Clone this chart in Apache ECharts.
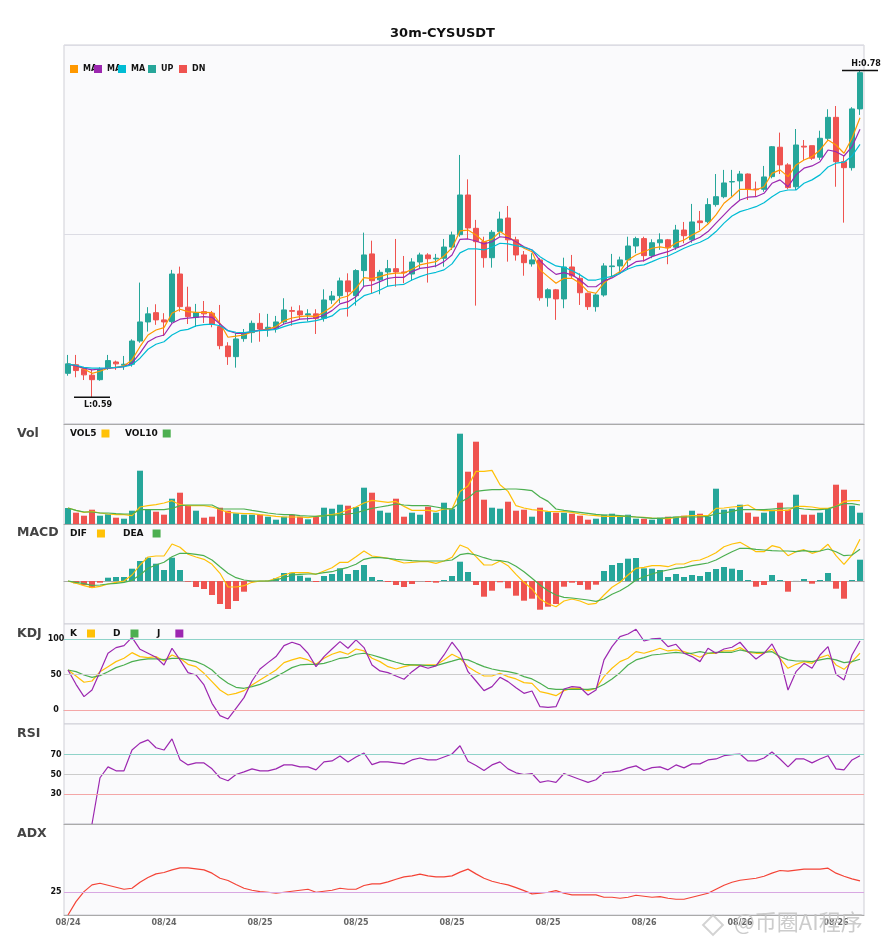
<!DOCTYPE html>
<html>
<head>
<meta charset="utf-8">
<title>30m-CYSUSDT</title>
<script src="https://cdn.jsdelivr.net/npm/echarts/dist/echarts.min.js"></script>
<style>
  html, body { margin: 0; padding: 0; background: #fff; }
  #main { width: 885px; height: 950px; }
</style>
</head>
<body>
<div id="main"></div>
<script>
// 30 minute candles, 08/24 14:00 .. 08/26 15:30
const categories = [
  '08/24 14:00','08/24 14:30','08/24 15:00','08/24 15:30','08/24 16:00','08/24 16:30','08/24 17:00','08/24 17:30','08/24 18:00','08/24 18:30',
  '08/24 19:00','08/24 19:30','08/24 20:00','08/24 20:30','08/24 21:00','08/24 21:30','08/24 22:00','08/24 22:30','08/24 23:00','08/24 23:30',
  '08/25 00:00','08/25 00:30','08/25 01:00','08/25 01:30','08/25 02:00','08/25 02:30','08/25 03:00','08/25 03:30','08/25 04:00','08/25 04:30',
  '08/25 05:00','08/25 05:30','08/25 06:00','08/25 06:30','08/25 07:00','08/25 07:30','08/25 08:00','08/25 08:30','08/25 09:00','08/25 09:30',
  '08/25 10:00','08/25 10:30','08/25 11:00','08/25 11:30','08/25 12:00','08/25 12:30','08/25 13:00','08/25 13:30','08/25 14:00','08/25 14:30',
  '08/25 15:00','08/25 15:30','08/25 16:00','08/25 16:30','08/25 17:00','08/25 17:30','08/25 18:00','08/25 18:30','08/25 19:00','08/25 19:30',
  '08/25 20:00','08/25 20:30','08/25 21:00','08/25 21:30','08/25 22:00','08/25 22:30','08/25 23:00','08/25 23:30','08/26 00:00','08/26 00:30',
  '08/26 01:00','08/26 01:30','08/26 02:00','08/26 02:30','08/26 03:00','08/26 03:30','08/26 04:00','08/26 04:30','08/26 05:00','08/26 05:30',
  '08/26 06:00','08/26 06:30','08/26 07:00','08/26 07:30','08/26 08:00','08/26 08:30','08/26 09:00','08/26 09:30','08/26 10:00','08/26 10:30',
  '08/26 11:00','08/26 11:30','08/26 12:00','08/26 12:30','08/26 13:00','08/26 13:30','08/26 14:00','08/26 14:30','08/26 15:00','08/26 15:30'
];

const opens = [
  .6043,.6093,.6067,.6032,.6006,.6072,.6109,.6090,.6096,.6231,
  .6342,.6396,.6354,.6344,.6621,.6428,.6369,.6402,.6393,.6315,
  .6202,.6140,.6245,.6280,.6334,.6299,.6307,.6342,.6408,.6406,
  .6383,.6389,.6363,.6470,.6495,.6581,.6495,.6641,.6738,.6587,
  .6633,.6652,.6633,.6621,.6691,.6732,.6709,.6713,.6778,.6850,
  .7081,.6887,.6809,.6716,.6868,.6947,.6820,.6732,.6680,.6703,
  .6483,.6529,.6476,.6662,.6596,.6509,.6431,.6499,.6664,.6668,
  .6703,.6784,.6827,.6728,.6803,.6820,.6777,.6877,.6820,.6930,
  .6926,.7025,.7071,.7157,.7163,.7203,.7116,.7114,.7188,.7359,
  .7256,.7129,.7365,.7368,.7301,.7411,.7533,.7275,.7240,.7582
];
const closes = [
  .6098,.6059,.6034,.6006,.6067,.6117,.6098,.6096,.6231,.6342,
  .6389,.6354,.6342,.6621,.6431,.6373,.6396,.6389,.6330,.6204,
  .6140,.6243,.6280,.6334,.6301,.6311,.6342,.6412,.6404,.6383,
  .6389,.6363,.6470,.6493,.6581,.6518,.6641,.6732,.6582,.6631,
  .6652,.6633,.6629,.6691,.6732,.6710,.6713,.6778,.6848,.7081,
  .6889,.6809,.6716,.6864,.6941,.6820,.6732,.6687,.6703,.6483,
  .6529,.6476,.6662,.6610,.6512,.6431,.6499,.6668,.6668,.6703,
  .6784,.6827,.6728,.6803,.6820,.6774,.6877,.6844,.6924,.6920,
  .7025,.7071,.7151,.7159,.7203,.7114,.7112,.7186,.7362,.7256,
  .7124,.7372,.7360,.7295,.7411,.7533,.7275,.7240,.7582,.7793
];
const highs = [
  .6150,.6150,.6080,.6063,.6078,.6150,.6117,.6144,.6241,.6571,
  .6428,.6445,.6393,.6645,.6664,.6547,.6447,.6464,.6406,.6441,
  .6224,.6276,.6301,.6350,.6393,.6389,.6377,.6480,.6431,.6439,
  .6416,.6416,.6532,.6522,.6600,.6625,.6649,.6862,.6815,.6645,
  .6703,.6825,.6726,.6713,.6745,.6742,.6738,.6825,.6868,.7314,
  .7172,.6936,.6838,.6877,.6984,.7017,.6838,.6755,.6742,.6713,
  .6538,.6534,.6716,.6732,.6625,.6512,.6509,.6684,.6738,.6722,
  .6838,.6838,.6838,.6823,.6858,.6825,.6907,.6924,.7029,.6988,
  .7062,.7203,.7227,.7227,.7221,.7206,.7159,.7250,.7366,.7444,
  .7266,.7465,.7401,.7368,.7455,.7580,.7599,.7310,.7592,.7805
];
const lows = [
  .6029,.6020,.6004,.5904,.6000,.6063,.6063,.6063,.6082,.6221,
  .6286,.6325,.6260,.6334,.6402,.6330,.6313,.6336,.6311,.6183,
  .6092,.6076,.6227,.6221,.6227,.6256,.6280,.6330,.6320,.6358,
  .6344,.6272,.6344,.6447,.6451,.6373,.6437,.6547,.6509,.6503,
  .6547,.6547,.6567,.6582,.6652,.6571,.6660,.6664,.6761,.6838,
  .6825,.6437,.6658,.6658,.6838,.6693,.6699,.6611,.6664,.6466,
  .6431,.6354,.6422,.6596,.6441,.6412,.6402,.6489,.6601,.6625,
  .6645,.6742,.6693,.6713,.6762,.6678,.6762,.6800,.6803,.6877,
  .6916,.7013,.7062,.7071,.7052,.7052,.7071,.7100,.7178,.7203,
  .7114,.7110,.7285,.7285,.7285,.7401,.7129,.6920,.7223,.7547
];

const ma5 = [
  .6096,.6088,.6068,.6043,.6055,.6073,.6078,.6086,.6121,.6198,
  .6266,.6295,.6309,.6393,.6416,.6402,.6398,.6398,.6396,.6334,
  .6253,.6259,.6266,.6284,.6295,.6300,.6315,.6350,.6365,.6373,
  .6377,.6373,.6400,.6431,.6480,.6493,.6538,.6600,.6594,.6606,
  .6620,.6626,.6626,.6649,.6674,.6684,.6693,.6726,.6773,.6872,
  .6877,.6848,.6809,.6823,.6868,.6838,.6809,.6771,.6751,.6645,
  .6606,.6567,.6596,.6596,.6567,.6518,.6509,.6569,.6607,.6635,
  .6703,.6732,.6751,.6771,.6779,.6771,.6802,.6819,.6848,.6872,
  .6912,.6965,.7033,.7071,.7114,.7114,.7110,.7129,.7207,.7227,
  .7188,.7256,.7285,.7304,.7343,.7401,.7372,.7324,.7411,.7531
];
const ma10 = [
  .6096,.6086,.6073,.6063,.6068,.6073,.6076,.6082,.6102,.6160,
  .6227,.6253,.6266,.6334,.6358,.6364,.6369,.6373,.6369,.6330,
  .6291,.6276,.6276,.6286,.6294,.6295,.6305,.6330,.6344,.6358,
  .6361,.6365,.6381,.6408,.6447,.6460,.6489,.6551,.6557,.6577,
  .6596,.6602,.6602,.6635,.6654,.6660,.6668,.6693,.6732,.6823,
  .6825,.6813,.6796,.6809,.6838,.6833,.6809,.6779,.6761,.6699,
  .6654,.6619,.6629,.6616,.6586,.6547,.6547,.6581,.6598,.6625,
  .6664,.6693,.6699,.6722,.6738,.6751,.6771,.6790,.6815,.6835,
  .6868,.6917,.6965,.7013,.7052,.7068,.7071,.7091,.7149,.7169,
  .7129,.7198,.7237,.7250,.7275,.7343,.7333,.7308,.7362,.7464
];
const ma20 = [
  .6096,.6090,.6078,.6073,.6073,.6074,.6078,.6082,.6092,.6131,
  .6183,.6212,.6227,.6266,.6291,.6299,.6319,.6326,.6329,.6320,
  .6291,.6282,.6280,.6286,.6291,.6294,.6299,.6315,.6329,.6338,
  .6342,.6350,.6361,.6377,.6416,.6422,.6460,.6495,.6509,.6528,
  .6551,.6557,.6561,.6586,.6606,.6621,.6631,.6645,.6680,.6744,
  .6767,.6767,.6761,.6777,.6800,.6796,.6786,.6777,.6761,.6722,
  .6693,.6668,.6660,.6641,.6616,.6586,.6586,.6598,.6607,.6625,
  .6650,.6668,.6674,.6693,.6713,.6726,.6748,.6771,.6790,.6806,
  .6829,.6868,.6917,.6959,.6984,.6998,.7013,.7036,.7071,.7100,
  .7110,.7110,.7149,.7169,.7198,.7244,.7266,.7272,.7308,.7376
];

const volumes = [
  160,113,83,143,83,97,63,53,133,533,
  143,123,93,253,313,187,133,63,73,163,
  133,107,93,93,93,73,43,73,93,73,
  47,73,163,153,193,183,170,363,313,133,
  113,253,73,113,93,173,113,213,153,903,
  523,823,243,163,153,223,133,143,73,163,
  123,113,113,103,83,43,53,93,103,73,
  93,53,53,43,63,73,73,83,133,103,
  73,353,143,153,193,113,73,113,143,213,
  143,293,93,93,113,153,393,343,183,113
];
const vol5 = [
  160,136,116,126,110,100,93,93,83,170,
  183,193,210,233,193,183,183,183,170,145,
  116,110,103,103,93,86,76,70,70,70,
  63,76,83,93,110,143,170,210,236,226,
  216,226,176,136,136,136,126,150,150,326,
  381,526,526,536,393,326,183,160,143,136,
  126,123,123,116,100,90,83,76,76,76,
  76,70,66,60,56,53,66,76,83,83,
  83,156,160,170,176,190,143,133,133,136,
  136,176,176,170,156,156,176,226,233,233
];
const vol10 = [
  160,136,120,120,110,110,103,100,100,143,
  143,143,143,156,183,190,190,190,190,150,
  150,150,150,136,123,110,100,93,93,83,
  80,76,83,86,93,100,110,136,156,170,
  183,200,190,183,183,183,170,156,150,216,
  260,326,336,343,343,350,350,343,333,270,
  226,150,136,126,116,106,96,90,90,83,
  76,70,63,56,56,63,70,70,70,70,
  76,103,110,126,143,143,143,143,150,156,
  160,160,150,143,143,150,176,203,203,190
];

const dif = [
  0,-.00023,-.00047,-.00067,-.00053,-.0003,-.00013,0,.0006,.0016,
  .0024,.0025,.0025,.0037,.00337,.00267,.0024,.00217,.00167,.00077,
  -.0006,-.0006,-.00047,-.00013,0,0,.00027,.0006,.00083,.00083,
  .00083,.00067,.001,.00133,.00187,.00187,.00243,.003,.0025,.0024,
  .00227,.00203,.0018,.00187,.00193,.00193,.00177,.002,.00237,.0036,
  .00327,.00243,.0016,.0016,.002,.00153,.00067,-.00013,-.0008,-.0018,
  -.00227,-.00257,-.002,-.0018,-.002,-.00233,-.00223,-.0014,-.00063,-.00013,
  .0006,.00127,.00137,.00153,.00153,.00143,.0017,.0017,.002,.0021,
  .00243,.00283,.00343,.0037,.00387,.00343,.00293,.00293,.00353,.00333,
  .00253,.00293,.00313,.00277,.003,.00367,.00253,.00167,.0026,.00417
];
const dea = [
  0,-.00013,-.00027,-.00043,-.0004,-.0003,-.00023,-.00013,.00007,.0006,
  .00127,.0016,.00187,.00243,.00277,.00277,.00267,.00253,.0021,.00143,
  .00077,.00033,.0001,0,0,0,.0001,.00033,.0006,.00067,
  .0007,.0007,.00083,.00093,.00117,.00137,.00167,.00217,.00233,.00233,
  .00227,.00217,.0021,.00203,.002,.002,.002,.002,.0021,.00263,
  .00277,.0026,.00233,.0021,.00203,.0019,.00147,.00093,.00027,-.0004,
  -.00097,-.0014,-.00163,-.0017,-.0018,-.0019,-.00203,-.0018,-.00133,-.00097,
  -.0005,.0001,.00043,.0007,.00093,.0011,.00127,.00137,.00153,.00167,
  .0018,.0021,.00253,.00293,.00327,.00327,.00317,.0031,.00303,.003,
  .003,.00293,.00303,.00293,.003,.0032,.00293,.00253,.0026,.00317
];
const macdHist = [
  0,-.00023,-.0004,-.00067,-.00017,.00033,.0004,.0004,.00123,.002,
  .00233,.00173,.0011,.00233,.0011,-.00007,-.0006,-.0008,-.0014,-.0023,
  -.0028,-.002,-.00107,-.00007,-.00001,.00003,.00027,.0008,.00083,.00053,
  .00033,-.0001,.0005,.0007,.00127,.0007,.0011,.0016,.0004,.0001,
  -.0001,-.0004,-.0006,-.0003,-.00001,-.0001,-.00017,.0001,.0005,.00193,
  .0009,-.0004,-.00157,-.00097,-.00013,-.00073,-.00147,-.00197,-.00177,-.00287,
  -.00257,-.0023,-.00057,-.00017,-.0004,-.00087,-.00037,.001,.0016,.0018,
  .00223,.0023,.00127,.00123,.0011,.0004,.0007,.0004,.0006,.0005,
  .0009,.0012,.0014,.00123,.0011,.0001,-.00057,-.0004,.0006,.0001,
  -.00107,.00001,.0002,-.00027,.0001,.0008,-.00077,-.00177,.0001,.00213
];

const kValues = [
  56.6,48.1,39.2,41.0,54.2,61.3,68.4,73.1,81.1,75.5,
  74.1,75.5,69.3,77.8,73.1,64.6,61.3,51.9,40.1,28.3,
  21.2,23.6,27.4,35.4,42.5,49.5,56.6,67.0,70.8,74.1,
  70.8,64.6,73.1,78.8,82.5,78.8,86.3,83.5,73.1,68.4,
  61.3,58.0,61.3,63.7,62.7,63.7,63.7,70.8,78.8,73.1,
  61.3,54.2,48.1,48.1,51.9,47.2,43.9,38.7,37.7,25.9,
  23.6,20.3,27.4,30.7,30.7,27.4,30.7,47.2,59.0,68.4,
  73.1,82.5,80.2,83.5,87.3,83.5,84.9,82.5,78.8,74.5,
  80.2,80.2,83.5,83.5,88.2,81.6,80.2,80.2,86.3,73.1,
  59.0,64.6,68.4,66.0,74.1,77.8,63.7,57.5,68.4,80.2
];
const dValues = [
  56.6,54.2,49.5,46.2,48.6,54.2,59.9,63.7,68.4,70.8,
  72.2,72.2,71.2,73.1,73.1,70.8,68.4,63.7,56.6,45.8,
  37.7,32.1,30.7,33.0,36.3,41.0,47.2,53.3,59.9,63.7,
  64.6,64.6,66.0,69.3,73.1,74.5,78.8,80.2,77.8,74.5,
  70.8,67.5,64.6,63.7,63.7,62.7,62.7,66.0,69.0,72.2,
  70.8,66.0,61.3,58.0,55.7,54.2,51.9,47.2,43.9,37.7,
  30.7,29.2,29.2,29.2,29.2,29.2,30.7,36.3,43.9,52.8,
  63.7,70.8,74.1,77.8,78.8,80.2,81.6,80.2,80.2,82.5,
  80.2,81.6,81.6,81.6,84.9,82.5,81.6,81.6,82.5,75.5,
  70.8,69.3,69.3,68.4,70.8,73.1,70.8,67.0,68.4,71.7
];
const jValues = [
  56.6,36.3,18.9,28.3,54.2,80.2,88.2,91.0,102.8,85.8,
  80.2,74.5,63.7,87.3,70.8,52.8,49.5,35.4,9.4,-8.0,
  -12.7,2.4,17.5,41.0,58.0,67.0,75.5,91.0,95.8,92.0,
  80.2,61.3,75.5,86.3,96.7,87.3,99.1,88.2,63.7,55.2,
  52.8,48.1,43.4,54.2,62.7,59.0,62.3,77.8,95.8,81.6,
  54.2,41.0,27.4,33.0,46.2,40.1,31.6,23.6,26.9,4.7,
  3.8,4.7,29.7,33.0,32.1,21.2,28.3,70.8,89.6,103.8,
  107.5,114.2,97.6,100.5,101.4,89.6,92.9,80.2,75.5,68.4,
  87.3,80.2,86.3,88.7,95.8,82.5,72.2,80.2,93.4,72.2,
  28.3,54.2,66.0,59.0,77.8,89.6,50.5,42.5,77.8,97.6
];

const rsi = [
  '-','-','-',0,46.7,57.7,53.7,53.7,74.7,81.7,
  85.0,77.0,74.7,86.0,65.0,59.7,61.7,61.7,55.7,46.7,
  43.7,50.0,52.7,55.7,53.7,53.7,55.7,59.7,59.7,57.7,
  57.7,54.7,62.7,63.7,68.7,62.7,67.7,71.7,60.0,62.7,
  62.7,61.7,60.7,64.7,66.7,64.7,64.7,67.7,70.7,79.0,
  63.3,59.0,54.0,59.7,62.7,55.7,51.7,50.0,51.0,42.0,
  43.7,42.0,51.0,48.0,45.0,42.0,44.7,52.0,52.7,53.7,
  56.7,58.7,54.0,57.0,57.7,54.7,59.7,56.7,60.7,60.7,
  64.7,65.7,69.0,70.0,70.7,63.7,63.7,66.7,72.7,65.7,
  57.7,65.7,65.7,61.7,65.7,69.0,55.7,54.7,64.7,69.0
];
const adx = [
  0,14.7,25.7,33.1,34.9,32.7,30.5,28.3,29.4,36.0,
  41.2,45.2,46.7,49.6,51.8,51.8,50.7,49.6,46.0,40.4,
  37.9,33.5,29.4,27.2,25.7,25.0,23.9,25.0,26.1,27.2,
  28.3,25.0,26.1,27.2,29.4,28.3,28.3,32.4,34.2,34.2,
  36.4,39.3,41.9,43.0,44.9,43.0,41.9,41.9,43.0,47.1,
  50.4,45.2,40.4,37.1,34.9,33.1,30.1,26.8,23.2,23.9,
  25.0,26.8,23.9,22.1,22.1,22.1,22.1,19.5,19.5,18.4,
  19.5,21.7,20.6,19.5,20.2,18.4,17.3,17.3,19.5,21.7,
  23.9,28.3,32.7,36.0,38.2,39.3,40.4,42.6,46.0,48.9,
  48.2,49.3,50.4,50.4,50.4,51.5,46.0,42.6,39.7,37.5
];

const UP = '#26a69a', DN = '#ef5350';
const FONT = 'DejaVu Sans';

const candles = categories.map((_, i) => [opens[i], closes[i], lows[i], highs[i]]);
const isUp = closes.map((c, i) => c >= opens[i]);
const volUp = volumes.map((v, i) => isUp[i] ? v : '-');
const volDn = volumes.map((v, i) => isUp[i] ? '-' : v);
const hiVal = Math.max(...highs), hiIdx = highs.indexOf(hiVal);
const loVal = Math.min(...lows), loIdx = lows.indexOf(loVal);

// grid layout: main, vol, macd, kdj, rsi, adx
const panels = [
  { top: 45, height: 379 },
  { top: 424, height: 100 },
  { top: 524, height: 100 },
  { top: 624, height: 100 },
  { top: 724, height: 100 },
  { top: 824, height: 91 }
];

const grids = panels.map(p => ({
  left: 64, right: 21, top: p.top, height: p.height,
  show: true, backgroundColor: '#fafafc', borderColor: '#cfcfd6', borderWidth: 1,
  containLabel: false, outerBoundsMode: 'none'
}));

const xAxes = panels.map((p, i) => ({
  type: 'category', gridIndex: i, data: categories, boundaryGap: true,
  axisLine: { show: true, lineStyle: { color: '#aaaaaa', width: 1 } },
  axisTick: { show: false },
  splitLine: { show: false },
  axisLabel: i === panels.length - 1 ? {
    show: true, interval: 11, margin: 4,
    fontSize: 8, fontWeight: 'bold', color: '#666', fontFamily: FONT,
    formatter: v => v.slice(0, 5)
  } : { show: false }
}));

function valueAxis(gridIndex, min, max, labels) {
  return {
    type: 'value', gridIndex, min, max,
    axisLine: { show: false }, axisTick: { show: false }, splitLine: { show: false },
    axisLabel: labels ? {
      show: true, customValues: labels, align: 'center', margin: 8,
      fontSize: 8, fontWeight: 'bold', color: '#111', fontFamily: FONT
    } : { show: false }
  };
}

const yAxes = [
  valueAxis(0, 0.5748, 0.7954),
  valueAxis(1, 0, 1000),
  valueAxis(2, -0.0043, 0.0057),
  valueAxis(3, -19.8, 121.6, [0, 50, 100]),
  valueAxis(4, 0, 101, [30, 50, 70]),
  valueAxis(5, 0, 100, [25]),
  // helper axis that only draws the middle guide line of the price panel
  {
    type: 'value', gridIndex: 0, min: 0, max: 2, interval: 1, position: 'right',
    axisLine: { show: false }, axisTick: { show: false }, axisLabel: { show: false },
    splitLine: { show: true, lineStyle: { color: '#dcdce4', width: 1 } }
  }
];

function line(name, data, color, xi, yi, extra) {
  return Object.assign({
    name, type: 'line', data, xAxisIndex: xi, yAxisIndex: yi,
    symbol: 'none', showSymbol: false, color,
    lineStyle: { color, width: 1.2 }, silent: true
  }, extra || {});
}

function guides(items) {
  return {
    silent: true, symbol: ['none', 'none'], label: { show: false }, animation: false,
    data: items.map(([v, c]) => ({ yAxis: v, lineStyle: { color: c, width: 1, type: 'solid' } }))
  };
}

// one legend entry per component so each sits exactly where it does in the picture
function legendItem(name, left, top, opts) {
  const o = opts || {};
  return {
    data: [name], left, top, padding: 0, itemWidth: 8, itemHeight: 8,
    icon: 'rect', selectedMode: false, align: o.align || 'left',
    formatter: o.label ? () => o.label : undefined,
    textStyle: {
      fontSize: o.size || 9, fontWeight: 'bold', color: '#111', fontFamily: FONT,
      padding: [0, o.padRight || 0, 0, 0]
    }
  };
}

const titleStyle = { fontSize: 12.5, fontWeight: 'bold', color: '#444', fontFamily: FONT };

const option = {
  animation: false,
  backgroundColor: '#ffffff',
  textStyle: { fontFamily: FONT },
  title: [
    { text: '30m-CYSUSDT', left: 'center', top: 27, padding: 0,
      textStyle: { fontSize: 13, fontWeight: 'bold', color: '#111', fontFamily: FONT } },
    { text: 'Vol', left: 17, top: 427.5, padding: 0, textStyle: titleStyle },
    { text: 'MACD', left: 17, top: 526.5, padding: 0, textStyle: titleStyle },
    { text: 'KDJ', left: 17, top: 627, padding: 0, textStyle: titleStyle },
    { text: 'RSI', left: 17, top: 727.5, padding: 0, textStyle: titleStyle },
    { text: 'ADX', left: 17, top: 827.5, padding: 0, textStyle: titleStyle }
  ],
  legend: [
    legendItem('MA5', 70, 65, { size: 8, label: 'MA' }),
    legendItem('MA10', 94, 65, { size: 8, label: 'MA' }),
    legendItem('MA20', 118, 65, { size: 8, label: 'MA' }),
    legendItem('UP', 148, 65, { size: 8 }),
    legendItem('DN', 179, 65, { size: 8 }),
    legendItem('VOL5', 70, 429, { align: 'right' }),
    legendItem('VOL10', 125, 429, { align: 'right' }),
    legendItem('DIF', 70, 529, { align: 'right', padRight: 5 }),
    legendItem('DEA', 123, 529, { align: 'right', padRight: 4 }),
    legendItem('K', 70, 629, { align: 'right', padRight: 5 }),
    legendItem('D', 113, 629, { align: 'right', padRight: 5 }),
    legendItem('J', 157, 629, { align: 'right', padRight: 10 })
  ],
  grid: grids,
  xAxis: xAxes,
  yAxis: yAxes,
  series: [
    {
      name: 'CYSUSDT', type: 'candlestick', data: candles, xAxisIndex: 0, yAxisIndex: 0,
      barWidth: 6, silent: true,
      itemStyle: { color: UP, color0: DN, borderColor: UP, borderColor0: DN, borderWidth: 1 },
      markPoint: {
        silent: true, animation: false, symbol: 'rect', symbolSize: [36, 1.5],
        itemStyle: { color: '#111' },
        label: { show: true, fontSize: 8, fontWeight: 'bold', color: '#111', fontFamily: FONT },
        data: [
          { coord: [hiIdx, hiVal], label: { position: 'top', distance: 2, offset: [6, 0], formatter: 'H:' + hiVal.toFixed(2) } },
          { coord: [loIdx, loVal], label: { position: 'bottom', distance: 3, offset: [6, 0], formatter: 'L:' + loVal.toFixed(2) } }
        ]
      }
    },
    line('MA5', ma5, '#ff9800', 0, 0),
    line('MA10', ma10, '#9c27b0', 0, 0),
    line('MA20', ma20, '#00bcd4', 0, 0),

    { name: 'UP', type: 'bar', data: volUp, xAxisIndex: 1, yAxisIndex: 1, barWidth: 6,
      color: UP, itemStyle: { color: UP }, silent: true },
    { name: 'DN', type: 'bar', data: volDn, xAxisIndex: 1, yAxisIndex: 1, barWidth: 6, barGap: '-100%',
      color: DN, itemStyle: { color: DN }, silent: true },
    line('VOL5', vol5, '#ffc107', 1, 1),
    line('VOL10', vol10, '#4caf50', 1, 1),

    { name: 'MACD', type: 'bar', data: macdHist, xAxisIndex: 2, yAxisIndex: 2, barWidth: 6, silent: true,
      itemStyle: { color: p => p.value >= 0 ? UP : DN } },
    line('DIF', dif, '#ffc107', 2, 2),
    line('DEA', dea, '#4caf50', 2, 2),

    line('K', kValues, '#ffc107', 3, 3, {
      markLine: guides([[100, '#8fd3c9'], [50, '#cccccc'], [0, '#f4a7a7']])
    }),
    line('D', dValues, '#4caf50', 3, 3),
    line('J', jValues, '#9c27b0', 3, 3),

    line('RSI', rsi, '#9c27b0', 4, 4, {
      markLine: guides([[70, '#8fd3c9'], [50, '#cccccc'], [30, '#f4a7a7']])
    }),

    line('ADX', adx, '#f44336', 5, 5, {
      markLine: guides([[25, '#d8a8e2']])
    })
  ],
  graphic: [
    { type: 'rect', x: 713, y: 925, rotation: Math.PI / 4, z: 100, silent: true,
      shape: { x: -7, y: -7, width: 14, height: 14 },
      style: { fill: 'none', stroke: 'rgba(200,200,200,0.8)', lineWidth: 2 } },
    { type: 'text', left: 734, top: 911, z: 100, silent: true,
      style: { text: '@币圈AI程序', fontSize: 22, fontFamily: 'Noto Sans CJK SC',
               fill: 'rgba(195,195,195,0.85)' } }
  ]
};

const chart = echarts.init(document.getElementById('main'), null, { renderer: 'canvas' });
chart.setOption(option);
</script>
</body>
</html>
